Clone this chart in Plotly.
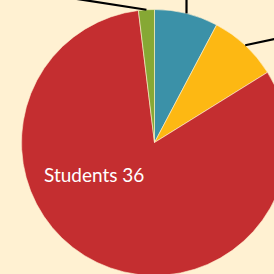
import math
import plotly.graph_objects as go

# ---- data ----
labels = ["Teachers", "Parents", "Students", "Others"]
values = [3.4, 3.7, 36, 0.85]
colors = ["#3B91A8", "#FDB813", "#C42E30", "#86A834"]
shown_label = "Students"

# ---- layout constants ----
W, H = 300, 284
BG = "#FFF1D2"
CX, CY, R = 154.5, 142.5, 133.0   # pie centre / radius in figure pixels

fig = go.Figure()
fig.add_trace(go.Pie(
    labels=labels,
    values=values,
    sort=False,
    direction="clockwise",
    rotation=0,
    textinfo="none",
    marker=dict(colors=colors, line=dict(color=BG, width=0.6)),
    domain=dict(x=[(CX - R) / W, (CX + R) / W],
                y=[(H - (CY + R)) / H, (H - (CY - R)) / H]),
    showlegend=False,
))

# leader lines from each small slice's mid-edge (derived from values)
dirs = {0: (0.0, -1.0), 1: (28.0, -6.0), 3: (-58.0, -9.0)}
total = sum(values)
cum = 0.0
shapes = []
for i, v in enumerate(values):
    mid = (cum + v / 2) / total * 2 * math.pi
    cum += v
    if i not in dirs:
        continue
    x0 = CX + R * math.sin(mid)
    y0 = CY - R * math.cos(mid)
    dx, dy = dirs[i]
    n = math.hypot(dx, dy)
    x1 = x0 + dx / n * 200
    y1 = y0 + dy / n * 200
    shapes.append(dict(type="line", xref="paper", yref="paper",
                       x0=x0 / W, y0=1 - y0 / H, x1=x1 / W, y1=1 - y1 / H,
                       line=dict(color="black", width=2.2)))

ri = labels.index(shown_label)
fig.update_layout(
    width=W, height=H,
    margin=dict(l=0, r=0, t=0, b=0),
    paper_bgcolor=BG, plot_bgcolor=BG,
    shapes=shapes,
    annotations=[dict(
        text=f"{shown_label} {values[ri]:g}",
        xref="paper", yref="paper", x=94 / W, y=1 - 174 / H,
        xanchor="center", yanchor="middle", showarrow=False,
        font=dict(family="Lato", size=19, color="white"),
    )],
)

fig.write_html(
    "out.html",
    config={"displayModeBar": False},
    post_script="document.body.style.margin='0';document.body.style.overflow='hidden';document.body.style.background='" + BG + "';",
)
